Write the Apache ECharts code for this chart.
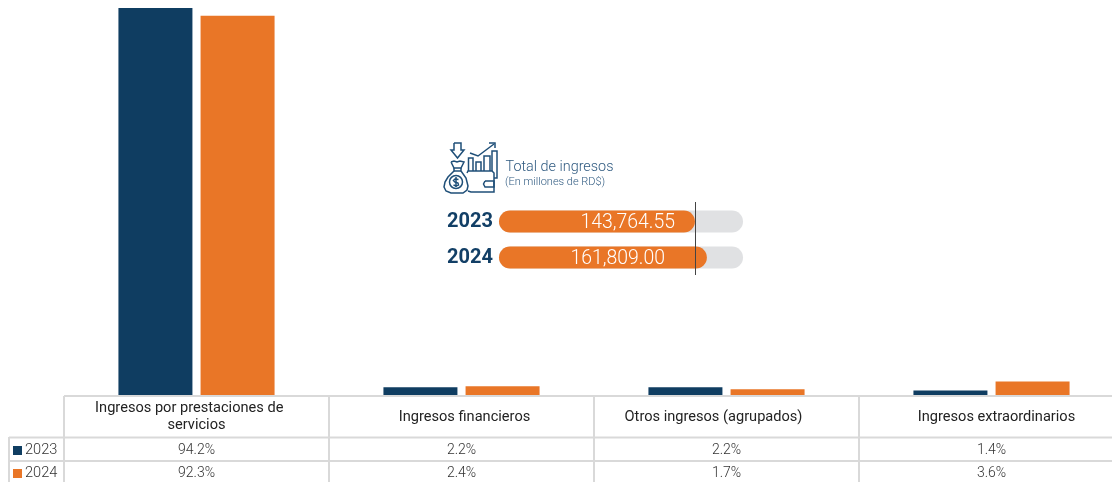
<!DOCTYPE html>
<html>
<head>
<meta charset="utf-8">
<style>html,body{margin:0;padding:0;background:#fff}#c{width:1112px;height:482px}</style>
<script src="https://cdn.jsdelivr.net/npm/echarts@6/dist/echarts.min.js"></script>
</head>
<body>
<div id="c"></div>
<script>
const categories = ['Ingresos por prestaciones de servicios', 'Ingresos financieros', 'Otros ingresos (agrupados)', 'Ingresos extraordinarios'];
const years = ['2023', '2024'];
const values2023 = [94.2, 2.2, 2.2, 1.4];
const values2024 = [92.3, 2.4, 1.7, 3.6];
const totalLabels = ['143,764.55', '161,809.00'];
const totalGaugeFill = [80.3, 85.2];

const NAVY = '#0f3d61', ORANGE = '#e97627', LINE = '#d9d9d9', ICON = '#1f4f78';
const FONT = 'Roboto';
const headerPadding = [[0, 0, 0, 0], [0, 0, 0, 6], [0, 26, 0, 0], [0, 0, 0, 10]];
const chart = echarts.init(document.getElementById('c'), null, {renderer: 'canvas'});

const pct = v => v.toFixed(1) + '%';
const rowAxis = (vals, offset) => ({
  type: 'category', gridIndex: 0, position: 'bottom', offset,
  data: vals.map(pct),
  axisLine: {show: false}, axisTick: {show: false},
  axisLabel: {margin: 0, interval: 0, verticalAlign: 'middle', fontFamily: FONT, fontSize: 14, fontWeight: 300, color: '#333'}
});
const legendRow = (name, top) => ({
  orient: 'vertical', left: 8, top, itemWidth: 9, itemHeight: 9,
  icon: 'rect', selectedMode: false, data: [name],
  textStyle: {fontFamily: FONT, fontSize: 14.6, fontWeight: 300, color: '#333', padding: [0, 0, 0, -2]}
});
const tableLine = (x1, y1, x2, y2) => ({type: 'line', silent: true, shape: {x1, y1, x2, y2}, style: {stroke: LINE, lineWidth: 2}, z: 5});
const iconLine = points => ({type: 'polyline', shape: {points}, style: {fill: null, stroke: ICON, lineWidth: 1.5}});

chart.setOption({
  animation: false,
  backgroundColor: '#fff',
  legend: [legendRow('2023', 438), legendRow('2024', 461)],
  grid: [
    {left: 64, width: 1060, top: 8, height: 387, outerBoundsMode: 'none'},
    {left: 499, width: 244, top: 203.5, height: 72, outerBoundsMode: 'none'}
  ],
  xAxis: [
    {
      type: 'category', gridIndex: 0,
      data: categories.map((value, i) => ({value, textStyle: {padding: headerPadding[i], verticalAlign: 'middle', align: 'center'}})),
      axisLine: {show: false}, axisTick: {show: false},
      axisLabel: {
        margin: 22, interval: 0, lineHeight: 17, verticalAlign: 'middle',
        fontFamily: FONT, fontSize: 14.6, color: '#222',
        formatter: v => v.replace(' servicios', '    \nservicios')
      }
    },
    rowAxis(values2023, 55),
    rowAxis(values2024, 78),
    {type: 'value', gridIndex: 1, min: 0, max: 100, show: false}
  ],
  yAxis: [
    {type: 'value', gridIndex: 0, min: 0.3, max: 94.2, show: false},
    {
      type: 'category', gridIndex: 1, inverse: true, data: years,
      axisLine: {show: false}, axisTick: {show: false},
      axisLabel: {margin: 6, fontFamily: FONT, fontSize: 20, fontWeight: 700, color: '#123f66', verticalAlign: 'middle', padding: [10, 0, 0, 0]}
    }
  ],
  series: [
    {name: '2023', type: 'bar', xAxisIndex: 0, yAxisIndex: 0, data: values2023, barWidth: 74, barGap: '11%', itemStyle: {color: NAVY}},
    {name: '2024', type: 'bar', xAxisIndex: 0, yAxisIndex: 0, data: values2024, barWidth: 74, barGap: '11%', itemStyle: {color: ORANGE}},
    {
      type: 'bar', xAxisIndex: 3, yAxisIndex: 1, barWidth: 22, silent: true,
      showBackground: true,
      backgroundStyle: {color: '#e0e1e3', borderRadius: 11},
      itemStyle: {color: ORANGE, borderRadius: 11},
      data: totalGaugeFill.map((v, i) => ({
        value: v,
        label: {
          show: true, position: 'insideRight', distance: i === 0 ? 20 : 42, offset: [0, 2],
          formatter: totalLabels[i], fontFamily: FONT, fontSize: 19.4, fontWeight: 300, color: '#fff'
        }
      }))
    }
  ],
  graphic: [
    tableLine(64, 396, 1112, 396),
    tableLine(9, 437.5, 1112, 437.5),
    tableLine(9, 461, 1112, 461),
    tableLine(64, 396, 64, 482),
    tableLine(329, 396, 329, 482),
    tableLine(594, 396, 594, 482),
    tableLine(859, 396, 859, 482),
    tableLine(9, 437, 9, 482),
    {type: 'line', z: 10, shape: {x1: 695.5, y1: 202, x2: 695.5, y2: 275}, style: {stroke: '#444', lineWidth: 1}},
    {type: 'text', left: 505.5, top: 160, style: {text: 'Total de ingresos', fontFamily: FONT, fontSize: 14.4, fontWeight: 300, fill: '#2f5a80'}},
    {type: 'text', left: 505, top: 177, style: {text: '(En millones de RD$)', fontFamily: FONT, fontSize: 11, fontWeight: 300, fill: '#2f5a80'}},
    {
      type: 'group', x: 440, y: 140, silent: true,
      children: [
        iconLine([[14,3],[21,3],[21,10],[24,10],[17.5,18],[11,10],[14,10],[14,3]]),
        iconLine([[11,22],[14,21],[17,22],[20,21],[24,22],[21,28],[14,28],[11,22]]),
        iconLine([[14,31],[21,31]]),
        iconLine([[14,28],[14,31],[8,37],[5,42],[4,47],[6,51],[11,53],[23,53],[27,50],[28,46],[26,38],[21,31],[21,28]]),
        {type: 'circle', shape: {cx: 16, cy: 42, r: 6.5}, style: {fill: null, stroke: ICON, lineWidth: 1.5}},
        iconLine([[18.5,39.5],[15,39],[13.5,40.5],[15,42],[18,43],[18.5,45],[16,46],[13.5,45]]),
        iconLine([[16,37],[16,47]]),
        iconLine([[27,33],[28,31],[52,31],[54,33],[54,52],[31,52],[28,51]]),
        iconLine([[45,41],[54,41],[54,47],[45,47],[43.5,44],[45,41]]),
        iconLine([[28.5,31],[28.5,18],[33,18],[33,31]]),
        iconLine([[36,31],[36,22],[41,22],[41,31]]),
        iconLine([[44,31],[44,16],[50,16],[50,31]]),
        iconLine([[52,31],[52,11],[57,11],[57,38],[54,38]]),
        iconLine([[30,13],[38,16],[46,10],[54,4]]),
        iconLine([[49,3],[55,3],[55,8]])
      ]
    }
  ]
});
</script>
</body>
</html>
